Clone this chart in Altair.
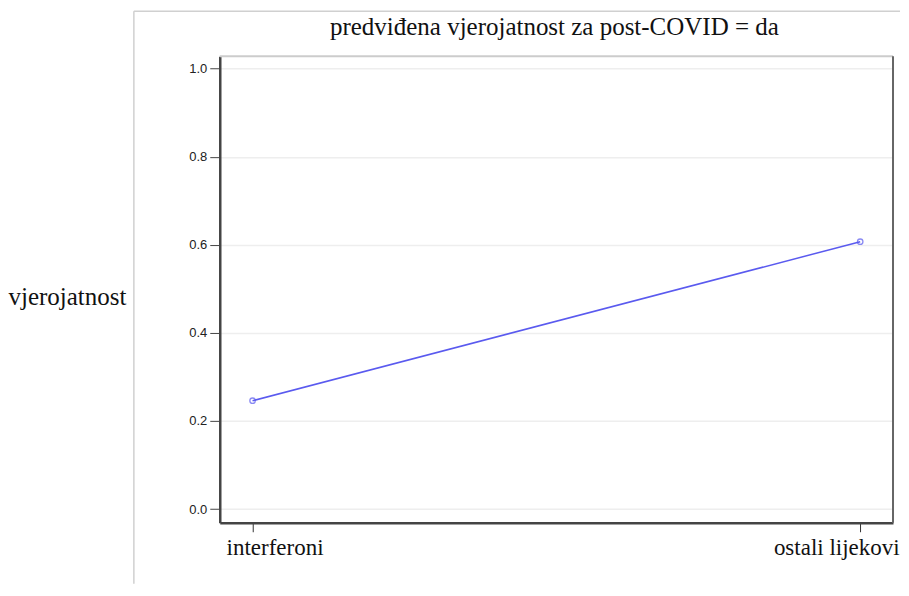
import altair as alt
import pandas as pd

categories = ["interferoni", "ostali lijekovi"]
probabilities = [0.246, 0.607]
chart_title = "predviđena vjerojatnost za post-COVID = da"

df = pd.DataFrame({"grupa": categories, "vjerojatnost": probabilities})

W, H = 674, 467
SERIF = "Liberation Serif, Times New Roman, serif"
SANS = "Liberation Sans, Arial, sans-serif"

x_enc = alt.X(
    "grupa:N",
    sort=categories,
    scale=alt.Scale(type="point", padding=0.054),
    axis=alt.Axis(
        title=None,
        labelAngle=0,
        labelFont=SERIF,
        labelFontSize=23,
        labelColor="#111",
        labelAlign="center",
        labelOffset={"condition": {"test": "datum.index == 0", "value": 22}, "value": -24},
        labelPadding=5,
        tickSize=9,
        tickColor="#333",
        domainColor="#444",
        domainWidth=2.5,
        grid=False,
    ),
)
y_enc = alt.Y(
    "vjerojatnost:Q",
    scale=alt.Scale(domain=[-0.031, 1.028], nice=False, zero=False),
    axis=alt.Axis(
        values=[0, 0.2, 0.4, 0.6, 0.8, 1.0],
        format=".1f",
        title="vjerojatnost",
        titleAngle=0,
        titleAlign="left",
        titleBaseline="middle",
        titleX=-212,
        titleY=241,
        titleFont=SERIF,
        titleFontSize=25,
        titleFontWeight="normal",
        titleColor="#111",
        labelFont=SANS,
        labelFontSize=13,
        labelColor="#222",
        labelPadding=3,
        tickSize=10,
        tickColor="#444",
        domainColor="#444",
        domainWidth=2.5,
        gridColor="#eeeeee",
        gridWidth=1.5,
    ),
)

base = alt.Chart(df)
line = base.mark_line(color="#5a5aef", strokeWidth=1.5).encode(x=x_enc, y=y_enc)
pts = base.mark_point(color="#5a5aef", size=30, strokeWidth=1.3, filled=False).encode(x=x_enc, y=y_enc)

frame_data = pd.DataFrame({"k": [0]})
top_border = alt.Chart(frame_data).mark_rule(color="#cccccc", strokeWidth=2).encode(
    x=alt.value(0), x2=alt.value(W), y=alt.value(0)
)
right_border = alt.Chart(frame_data).mark_rule(color="#666666", strokeWidth=2).encode(
    x=alt.value(W), y=alt.value(0), y2=alt.value(H)
)
outer_top = alt.Chart(frame_data).mark_rule(color="#d0d0d0", strokeWidth=1.5).encode(
    x=alt.value(-86), x2=alt.value(681), y=alt.value(-45)
)
outer_left = alt.Chart(frame_data).mark_rule(color="#d0d0d0", strokeWidth=1.5).encode(
    x=alt.value(-86), y=alt.value(-45), y2=alt.value(528)
)
title_text = alt.Chart(frame_data).mark_text(
    text=chart_title, font=SERIF, fontSize=25, color="#111", align="center", baseline="alphabetic"
).encode(x=alt.value(335), y=alt.value(-21))

chart = (
    alt.layer(outer_top, outer_left, title_text, top_border, right_border, line, pts)
    .properties(
        width=W,
        height=H,
        padding={"left": 0, "top": 2, "right": 0, "bottom": 0},
    )
    .configure_view(stroke=None)
)

chart.save("out.html", embed_options={"renderer": "svg", "actions": False})
